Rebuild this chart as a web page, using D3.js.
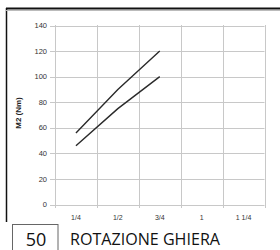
<!DOCTYPE html>
<html><head><meta charset="utf-8">
<script src="https://cdn.jsdelivr.net/npm/d3@7"></script>
<style>
body{margin:0;background:#fff;}
svg{display:block;}
</style></head>
<body>
<script>
const categories = ["1/4", "1/2", "3/4", "1", "1 1/4"];
const yTicks = [0, 20, 40, 60, 80, 100, 120, 140];
const upperX = ["1/4", "1/2", "3/4"];
const upperY = [56, 90, 120];
const lowerX = ["1/4", "1/2", "3/4"];
const lowerY = [46, 75, 100];
const yTitle = "M2 (Nm)";
const boxLabel = "50";
const caption = "ROTAZIONE GHIERA";

const W = 280, H = 250;
const svg = d3.select("body").append("svg").attr("width", W).attr("height", H);

const x = d3.scaleBand().domain(categories).range([55, 264.5]).padding(0);
const y = d3.scaleLinear().domain([0, 140]).range([204.5, 25.5]);

// frame
svg.append("line").attr("x1", 6.5).attr("x2", 6.5).attr("y1", 8).attr("y2", 222)
  .attr("stroke", "#111").attr("stroke-width", 1.5);
svg.append("line").attr("x1", 6).attr("x2", 280).attr("y1", 8.5).attr("y2", 8.5)
  .attr("stroke", "#111").attr("stroke-width", 2);
svg.append("line").attr("x1", 6).attr("x2", 280).attr("y1", 10.5).attr("y2", 10.5)
  .attr("stroke", "#bbb").attr("stroke-width", 1);

// horizontal grid + y ticks
const gy = svg.append("g");
gy.selectAll("line").data(yTicks).join("line")
  .attr("x1", 50).attr("x2", 264.5)
  .attr("y1", d => Math.round(y(d)) + 0.5).attr("y2", d => Math.round(y(d)) + 0.5)
  .attr("stroke", "#c8c8c8").attr("stroke-width", 1);
gy.selectAll("text").data(yTicks).join("text")
  .attr("x", 47).attr("y", d => y(d) + 2.7)
  .attr("text-anchor", "end")
  .attr("font-family", "Liberation Sans, Arial, sans-serif")
  .attr("font-size", 7.5).attr("fill", "#333")
  .text(d => d);

// vertical grid lines at band edges
const edges = categories.map(c => x(c)).concat([x.range()[1]]);
svg.append("g").selectAll("line").data(edges).join("line")
  .attr("x1", d => Math.round(d) + 0.5).attr("x2", d => Math.round(d) + 0.5)
  .attr("y1", 25).attr("y2", 208)
  .attr("stroke", "#c8c8c8").attr("stroke-width", 1);

// x labels
svg.append("g").selectAll("text").data(categories).join("text")
  .attr("x", d => x(d) + x.bandwidth() / 2).attr("y", 220)
  .attr("text-anchor", "middle")
  .attr("font-family", "Liberation Sans, Arial, sans-serif")
  .attr("font-size", 7).attr("fill", "#333")
  .text(d => d);

// y title
svg.append("text")
  .attr("transform", "translate(20.5,113) rotate(-90)")
  .attr("text-anchor", "middle")
  .attr("font-family", "Liberation Sans, Arial, sans-serif")
  .attr("font-size", 8).attr("font-weight", "bold").attr("fill", "#222")
  .text(yTitle);

// lines
const line = d3.line().x(d => x(d[0]) + x.bandwidth() / 2).y(d => y(d[1]));
[[upperX, upperY], [lowerX, lowerY]].forEach(([xs, ys]) => {
  svg.append("path").datum(xs.map((c, i) => [c, ys[i]]))
    .attr("d", line).attr("fill", "none")
    .attr("stroke", "#2a2a2a").attr("stroke-width", 1.4);
});

// bottom label box
svg.append("rect").attr("x", 12.5).attr("y", 224.5).attr("width", 45.5).attr("height", 30)
  .attr("fill", "none").attr("stroke", "#666").attr("stroke-width", 1);
svg.append("text").attr("x", 36).attr("y", 245.5)
  .attr("text-anchor", "middle")
  .attr("font-family", "Open Sans, sans-serif")
  .attr("font-size", 18).attr("fill", "#111")
  .text(boxLabel);
svg.append("text").attr("x", 70).attr("y", 245)
  .attr("font-family", "Open Sans, sans-serif")
  .attr("font-size", 16).attr("fill", "#111")
  .attr("textLength", 150).attr("lengthAdjust", "spacingAndGlyphs")
  .text(caption);
</script>
</body></html>
